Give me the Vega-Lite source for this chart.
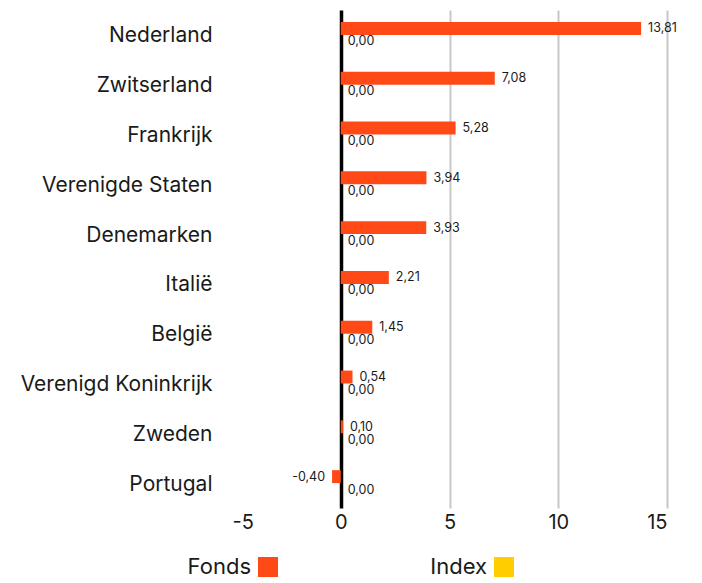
{
  "$schema": "https://vega.github.io/schema/vega-lite/v6.json",
  "width": 435,
  "height": 498,
  "autosize": {"type": "none"},
  "padding": {"left": 232, "top": 10, "right": 35, "bottom": 75},
  "background": "white",
  "config": {
    "locale": {"number": {"decimal": ",", "thousands": ".", "grouping": [3], "currency": ["€", ""], "minus": "-"}},
    "font": "Inter",
    "view": {"stroke": null}
  },
  "data": {
    "values": [
      {"land": "Nederland", "serie": "Fonds", "waarde": 13.81},
      {"land": "Nederland", "serie": "Index", "waarde": 0},
      {"land": "Zwitserland", "serie": "Fonds", "waarde": 7.08},
      {"land": "Zwitserland", "serie": "Index", "waarde": 0},
      {"land": "Frankrijk", "serie": "Fonds", "waarde": 5.28},
      {"land": "Frankrijk", "serie": "Index", "waarde": 0},
      {"land": "Verenigde Staten", "serie": "Fonds", "waarde": 3.94},
      {"land": "Verenigde Staten", "serie": "Index", "waarde": 0},
      {"land": "Denemarken", "serie": "Fonds", "waarde": 3.93},
      {"land": "Denemarken", "serie": "Index", "waarde": 0},
      {"land": "Italië", "serie": "Fonds", "waarde": 2.21},
      {"land": "Italië", "serie": "Index", "waarde": 0},
      {"land": "België", "serie": "Fonds", "waarde": 1.45},
      {"land": "België", "serie": "Index", "waarde": 0},
      {"land": "Verenigd Koninkrijk", "serie": "Fonds", "waarde": 0.54},
      {"land": "Verenigd Koninkrijk", "serie": "Index", "waarde": 0},
      {"land": "Zweden", "serie": "Fonds", "waarde": 0.10},
      {"land": "Zweden", "serie": "Index", "waarde": 0},
      {"land": "Portugal", "serie": "Fonds", "waarde": -0.40},
      {"land": "Portugal", "serie": "Index", "waarde": 0}
    ]
  },
  "encoding": {
    "y": {
      "field": "land", "type": "nominal", "sort": null,
      "scale": {"paddingInner": 0.48, "paddingOuter": 0.24},
      "axis": {"title": null, "ticks": false, "domain": false, "labelFontSize": 21, "labelColor": "#1a1a1a", "labelPadding": 20, "labelLimit": 300, "labelOffset": 1.5}
    },
    "yOffset": {"field": "serie", "type": "nominal", "scale": {"paddingInner": 0, "paddingOuter": 0}},
    "x": {
      "field": "waarde", "type": "quantitative",
      "scale": {"domain": [-5, 15], "nice": false, "zero": false},
      "axis": {
        "title": null, "values": [-5, 0, 5, 10, 15], "ticks": false, "domain": false,
        "labelFontSize": 20, "labelColor": "#1a1a1a", "labelPadding": 4,
        "grid": true,
        "gridColor": {"condition": [{"test": "datum.value === 0", "value": "#000000"}, {"test": "datum.value === -5", "value": "transparent"}], "value": "#c8c8c8"},
        "gridWidth": {"condition": {"test": "datum.value === 0", "value": 3.5}, "value": 2}
      }
    }
  },
  "layer": [
    {
      "mark": {"type": "bar"},
      "encoding": {
        "color": {
          "field": "serie", "type": "nominal",
          "scale": {"domain": ["Fonds", "Index"], "range": ["#FF4A17", "#FFCD00"]},
          "legend": {
            "title": null, "orient": "none", "direction": "horizontal",
            "legendX": -23, "legendY": 546,
            "symbolType": "square", "symbolSize": 400, "symbolStrokeWidth": 0,
            "labelFontSize": 22, "labelColor": "#1a1a1a",
            "labelAlign": "right", "labelOffset": -28, "symbolOffset": 48,
            "columnPadding": 152
          }
        }
      }
    },
    {
      "transform": [{"filter": "datum.waarde >= 0"}],
      "mark": {"type": "text", "align": "left", "baseline": "middle", "dx": 7, "fontSize": 12.5, "color": "#1a1a1a"},
      "encoding": {"text": {"field": "waarde", "type": "quantitative", "format": ".2f"}}
    },
    {
      "transform": [{"filter": "datum.waarde < 0"}],
      "mark": {"type": "text", "align": "right", "baseline": "middle", "dx": -7, "fontSize": 12.5, "color": "#1a1a1a"},
      "encoding": {"text": {"field": "waarde", "type": "quantitative", "format": ".2f"}}
    }
  ]
}
